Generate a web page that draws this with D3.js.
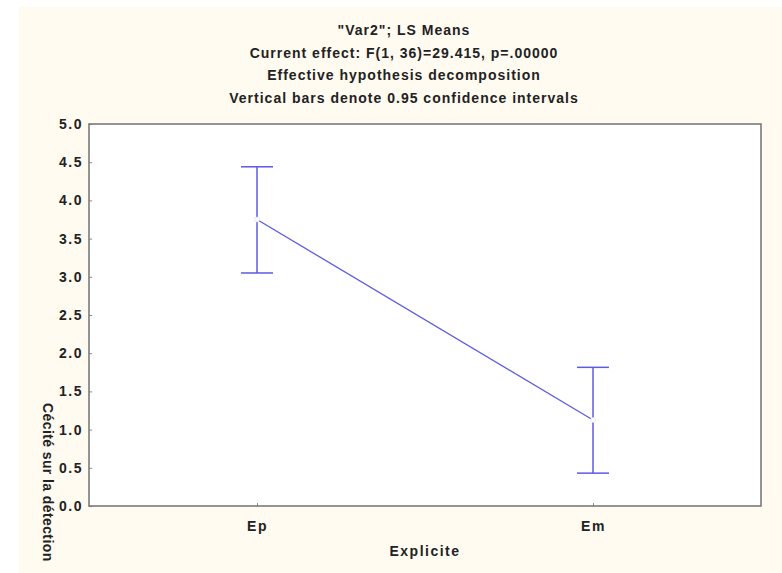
<!DOCTYPE html>
<html>
<head>
<meta charset="utf-8">
<script src="https://cdn.jsdelivr.net/npm/d3@7"></script>
<style>
  body { margin: 0; background: #fff; }
  text { font-family: "Liberation Sans", Arial, sans-serif; font-weight: bold; fill: #222; }
</style>
</head>
<body>
<div id="chart"></div>
<script>
// data
var categories = ["Ep", "Em"];
var means = [3.75, 1.125];
var lower = [3.05, 0.43];
var upper = [4.44, 1.815];
var yTicks = [0, 0.5, 1, 1.5, 2, 2.5, 3, 3.5, 4, 4.5, 5];
var titleLines = ["\"Var2\"; LS Means", "Current effect: F(1, 36)=29.415, p=.00000",
                  "Effective hypothesis decomposition", "Vertical bars denote 0.95 confidence intervals"];

var W = 782, H = 573;
var margin = {top: 124, right: 21, bottom: 67, left: 89};
var width = W - margin.left - margin.right,
    height = H - margin.top - margin.bottom;

var svg = d3.select("#chart").append("svg")
    .attr("width", W).attr("height", H);

// cream background
svg.append("rect").attr("x", 19).attr("y", 7)
  .attr("width", W - 19).attr("height", H - 7).attr("fill", "#fffbf1");

// titles
svg.selectAll(".title").data(titleLines).enter().append("text")
  .attr("x", 404).attr("y", function(d, i) { return 35 + i * 22.5; })
  .attr("text-anchor", "middle").style("font-size", "14px").style("letter-spacing", "1px")
  .text(function(d) { return d; });

var g = svg.append("g").attr("transform", "translate(" + margin.left + "," + margin.top + ")");

g.append("rect").attr("width", width).attr("height", height).attr("fill", "#fff");

var x = d3.scaleLinear().domain([-0.5, 1.5]).range([0, width]);
var y = d3.scaleLinear().domain([0, 5]).range([height, 0]);

// y axis
var yAxis = d3.axisLeft(y).tickValues(yTicks).tickFormat(d3.format(".1f")).tickSizeInner(-3).tickSizeOuter(0).tickPadding(6);
var ya = g.append("g").call(yAxis);
ya.select(".domain").remove();
ya.selectAll("line").attr("stroke", "#888");
ya.selectAll("text").style("font-size", "14px").style("letter-spacing", "1.5px").attr("fill", "#222");

// x axis
var xAxis = d3.axisBottom(x).tickValues([0, 1]).tickFormat(function(d) { return categories[d]; })
  .tickSizeInner(-3).tickSizeOuter(0).tickPadding(15);
var xa = g.append("g").attr("transform", "translate(0," + height + ")").call(xAxis);
xa.select(".domain").remove();
xa.selectAll("line").attr("stroke", "#888");
xa.selectAll("text").style("font-size", "14px").style("letter-spacing", "1.5px").attr("fill", "#222");

// frame
g.append("rect").attr("width", width).attr("height", height)
  .attr("fill", "none").attr("stroke", "#7a7a7a").attr("stroke-width", 1.6);

// axis titles
g.append("text").attr("x", width / 2).attr("y", height + 50)
  .attr("text-anchor", "middle").style("font-size", "14px").style("letter-spacing", "1.5px").text("Explicite");
svg.append("text").attr("transform", "translate(43,403) rotate(90)")
  .attr("text-anchor", "start").style("font-size", "14px").style("letter-spacing", "0.4px").text("Cécité sur la détection");

var blue = "#5b5be3";
var cap = 16;

// mean line
g.append("path").datum(means)
  .attr("fill", "none").attr("stroke", blue).attr("stroke-width", 1.3)
  .attr("d", d3.line().x(function(d, i) { return x(i); }).y(function(d) { return y(d); }));

// error bars
var bars = g.selectAll(".bar").data(categories).enter().append("g");
bars.append("line")
  .attr("x1", function(d, i) { return x(i); }).attr("x2", function(d, i) { return x(i); })
  .attr("y1", function(d, i) { return y(lower[i]); }).attr("y2", function(d, i) { return y(upper[i]); })
  .attr("stroke", blue).attr("stroke-width", 1.5);
bars.append("line")
  .attr("x1", function(d, i) { return x(i) - cap; }).attr("x2", function(d, i) { return x(i) + cap; })
  .attr("y1", function(d, i) { return y(upper[i]); }).attr("y2", function(d, i) { return y(upper[i]); })
  .attr("stroke", blue).attr("stroke-width", 1.5);
bars.append("line")
  .attr("x1", function(d, i) { return x(i) - cap; }).attr("x2", function(d, i) { return x(i) + cap; })
  .attr("y1", function(d, i) { return y(lower[i]); }).attr("y2", function(d, i) { return y(lower[i]); })
  .attr("stroke", blue).attr("stroke-width", 1.5);

// hollow markers
g.selectAll(".pt").data(means).enter().append("circle")
  .attr("cx", function(d, i) { return x(i); }).attr("cy", function(d) { return y(d); })
  .attr("r", 2.5).attr("fill", "#fff").attr("stroke", "#d8d8f6").attr("stroke-width", 0.6);
</script>
</body>
</html>
